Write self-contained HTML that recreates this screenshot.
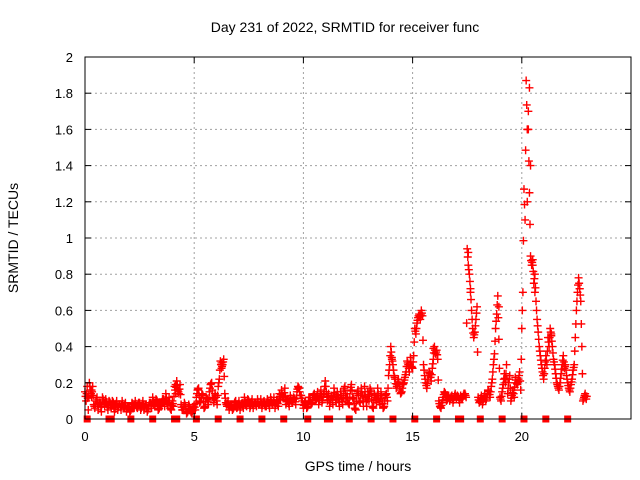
<!DOCTYPE html>
<html><head><meta charset="utf-8">
<style>
html,body{margin:0;padding:0;background:#fff;}
svg{display:block;font-family:"Liberation Sans",Arial,sans-serif;}
</style></head>
<body>
<svg id="chart" width="640" height="480" viewBox="0 0 640 480">
<text x="345" y="32" font-size="14" text-anchor="middle">Day 231 of 2022, SRMTID for receiver func</text>
<text x="358" y="471" font-size="14" text-anchor="middle">GPS time / hours</text>
<text transform="translate(18,238) rotate(-90)" font-size="14" text-anchor="middle">SRMTID / TECUs</text>
<g id="grid"></g>
<g id="points"></g>
<g id="axes"></g>
</svg>
<script>
const xTicks=[0,5,10,15,20];
const yTicks=[0,0.2,0.4,0.6,0.8,1,1.2,1.4,1.6,1.8,2];
const yTickLabels=["0","0.2","0.4","0.6","0.8","1","1.2","1.4","1.6","1.8","2"];
const tStart=0, tStep=0.1;
const srmtid=[
0.15,0.18,0.20,0.12,0.08,0.10,0.05,0.09,0.12,0.07,
0.08,0.10,0.06,0.09,0.07,0.05,0.08,0.10,0.06,0.04,
0.07,0.05,0.08,0.10,0.06,0.09,0.07,0.05,0.08,0.06,
0.09,0.12,0.07,0.10,0.06,0.08,0.11,0.14,0.08,0.06,
0.10,0.18,0.21,0.14,0.08,0.05,0.07,0.04,0.06,0.03,
0.08,0.12,0.17,0.10,0.13,0.07,0.11,0.15,0.20,0.09,
0.12,0.18,0.32,0.30,0.14,0.07,0.05,0.08,0.06,0.10,
0.07,0.05,0.09,0.12,0.07,0.10,0.08,0.06,0.09,0.11,
0.08,0.06,0.10,0.07,0.09,0.12,0.08,0.06,0.10,0.14,
0.16,0.12,0.08,0.10,0.13,0.09,0.11,0.15,0.17,0.13,
0.06,0.10,0.07,0.12,0.09,0.14,0.11,0.08,0.16,0.12,
0.21,0.10,0.07,0.13,0.17,0.09,0.12,0.15,0.08,0.18,
0.14,0.08,0.19,0.11,0.05,0.16,0.09,0.13,0.18,0.07,
0.10,0.15,0.06,0.12,0.17,0.08,0.11,0.07,0.14,0.24,
0.40,0.30,0.22,0.19,0.18,0.15,0.20,0.26,0.30,0.34,
0.28,0.50,0.53,0.58,0.60,0.30,0.20,0.22,0.25,0.28,
0.40,0.38,0.10,0.06,0.12,0.14,0.11,0.10,0.13,0.12,
0.11,0.12,0.13,0.12,0.14,0.94,0.80,0.60,0.45,0.55,
0.12,0.10,0.08,0.14,0.12,0.15,0.18,0.30,0.50,0.68,
0.12,0.15,0.25,0.30,0.20,0.10,0.16,0.23,0.19,0.26,
0.50,1.27,1.87,1.60,0.90,0.88,0.80,0.55,0.40,0.30,
0.22,0.35,0.45,0.50,0.40,0.30,0.20,0.16,0.25,0.35,
0.30,0.20,0.15,0.22,0.30,0.60,0.78,0.65,0.10,0.14
];
const srmtidB=[
0.10,0.05,0.16,0.18,0.06,0.12,0.09,0.04,0.10,0.11,
0.05,0.09,0.10,0.04,0.10,0.08,0.05,0.07,0.09,0.07,
0.04,0.09,0.06,0.07,0.09,0.05,0.10,0.08,0.04,0.09,
0.06,0.08,0.11,0.05,0.09,0.11,0.07,0.09,0.12,0.05,
0.07,0.14,0.16,0.19,0.05,0.09,0.03,0.08,0.04,0.06,
0.05,0.16,0.09,0.14,0.06,0.12,0.08,0.19,0.12,0.14,
0.08,0.22,0.28,0.33,0.09,0.10,0.08,0.05,0.09,0.06,
0.10,0.08,0.06,0.08,0.11,0.06,0.11,0.09,0.07,0.08,
0.11,0.09,0.07,0.11,0.06,0.09,0.12,0.09,0.07,0.11,
0.12,0.17,0.11,0.07,0.10,0.12,0.08,0.18,0.13,0.10,
0.09,0.06,0.12,0.08,0.13,0.10,0.15,0.12,0.09,0.15,
0.15,0.14,0.11,0.08,0.12,0.15,0.07,0.11,0.16,0.10,
0.09,0.16,0.12,0.06,0.14,0.10,0.17,0.07,0.12,0.15,
0.17,0.07,0.14,0.09,0.11,0.15,0.06,0.13,0.10,0.30,
0.34,0.24,0.17,0.22,0.14,0.19,0.23,0.32,0.26,0.29,
0.35,0.47,0.56,0.55,0.57,0.24,0.17,0.26,0.21,0.33,
0.36,0.33,0.07,0.09,0.15,0.10,0.13,0.12,0.09,0.14,
0.13,0.09,0.11,0.14,0.12,0.85,0.72,0.50,0.48,0.62,
0.09,0.13,0.11,0.10,0.16,0.12,0.22,0.36,0.58,0.44,
0.10,0.19,0.20,0.14,0.24,0.13,0.12,0.20,0.22,0.16,
0.70,1.10,1.60,1.25,0.85,0.75,0.65,0.48,0.35,0.26,
0.28,0.30,0.40,0.46,0.33,0.25,0.18,0.20,0.30,0.28,
0.24,0.17,0.19,0.27,0.45,0.70,0.72,0.40,0.12,0.11
];
const extraTimes=[0.3,4.15,6.25,14.05,15.35,15.95,17.55,17.65,18.95,20.25,20.3,20.35,20.4,20.5,20.6,21.35,22.65];
const extraValues=[0.16,0.19,0.31,0.33,0.57,0.39,0.92,0.70,0.62,1.20,1.70,1.83,1.40,0.85,0.70,0.47,0.72];
const zeroTimes=[0.1,1.1,1.2,2.1,3.1,4.1,4.2,5.1,6.1,7.1,8.1,9.1,10.2,11.1,11.2,12.1,13.1,14.1,15.1,16.1,17.1,17.2,18.1,19.1,20.1,21.1,22.1];
const X0=85,X1=631,Y0=419,Y1=57,XMAX=25,YMAX=2;
const sx=v=>X0+v/XMAX*(X1-X0);
const sy=v=>Y0-v/YMAX*(Y0-Y1);
const NS="http://www.w3.org/2000/svg";
function mk(tag,attrs,parent){const e=document.createElementNS(NS,tag);for(const k in attrs)e.setAttribute(k,attrs[k]);parent.appendChild(e);return e;}
const grid=document.getElementById('grid'),axes=document.getElementById('axes'),pts=document.getElementById('points');
xTicks.forEach((t,i)=>{
  if(t>0){const g=mk('line',{x1:sx(t),x2:sx(t),y1:Y0,y2:Y1,stroke:'#a0a0a0','stroke-dasharray':'2,3'},grid);
  
  }
  const tk=mk('line',{x1:sx(t),x2:sx(t),y1:Y0,y2:Y0-6,stroke:'#000'},axes);
  
  
  const tk2=mk('line',{x1:sx(t),x2:sx(t),y1:Y1,y2:Y1+6,stroke:'#000'},axes);
  
  
  const l=mk('text',{x:sx(t),y:Y0+22,'font-size':13,'text-anchor':'middle'},axes);l.textContent=String(t);
  
  
});
yTicks.forEach((v,i)=>{
  if(v>0&&v<YMAX){const g=mk('line',{x1:X0,x2:X1,y1:sy(v),y2:sy(v),stroke:'#a0a0a0','stroke-dasharray':'2,3'},grid);
  
  }
  const tk=mk('line',{x1:X0,x2:X0+6,y1:sy(v),y2:sy(v),stroke:'#000'},axes);
  
  
  const tk2=mk('line',{x1:X1,x2:X1-6,y1:sy(v),y2:sy(v),stroke:'#000'},axes);
  
  
  const l=mk('text',{x:X0-12,y:sy(v)+5,'font-size':13,'text-anchor':'end'},axes);l.textContent=yTickLabels[i];
  
  
});
const frame=mk('rect',{x:X0,y:Y1,width:X1-X0,height:Y0-Y1,fill:'none',stroke:'#000'},axes);


function plus(t,v){
  const x=sx(t),y=sy(v);
  const p=mk('path',{d:`M${x-4} ${y}H${x+4}M${x} ${y-4}V${y+4}`,stroke:'#f00','stroke-width':1.4,fill:'none'},pts);
  
  
}
srmtid.forEach((v,i)=>{
  const t=tStart+i*tStep;
  plus(t,v);
  plus(t+0.05,srmtidB[i]);
  const nb=srmtidB[i];
  plus(t+0.025,(v+nb)/2);
  const nx=srmtid[i+1]!==undefined?srmtid[i+1]:v;
  plus(t+0.075,(nb+nx)/2);
});
extraTimes.forEach((t,i)=>plus(t,extraValues[i]));
zeroTimes.forEach(t=>{
  const r=mk('rect',{x:sx(t)-3.5,y:Y0-3.5,width:7,height:7,fill:'#f00'},pts);
  
  
});
</script>
</body></html>
